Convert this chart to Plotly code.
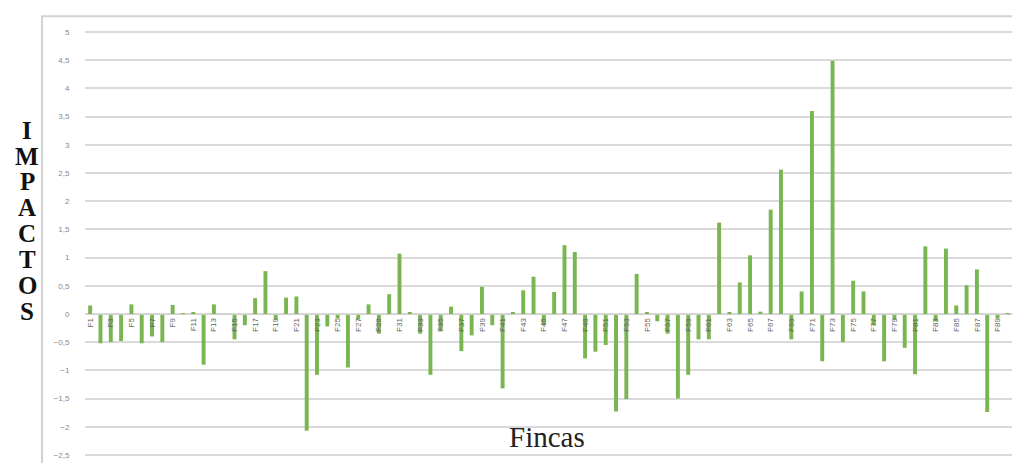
import plotly.graph_objects as go

categories = [f"F{i}" for i in range(1, 91)]
values = [
    0.15, -0.52, -0.50, -0.48, 0.17, -0.52, -0.40, -0.50, 0.16, 0.01,
    0.03, -0.90, 0.17, 0.00, -0.45, -0.20, 0.28, 0.76, -0.10, 0.29,
    0.31, -2.07, -1.08, -0.22, -0.08, -0.95, -0.10, 0.17, -0.35, 0.35,
    1.07, 0.03, -0.35, -1.08, -0.30, 0.13, -0.66, -0.38, 0.48, -0.20,
    -1.32, 0.03, 0.42, 0.66, -0.20, 0.39, 1.22, 1.10, -0.79, -0.67,
    -0.55, -1.73, -1.51, 0.71, 0.03, -0.13, -0.35, -1.50, -1.08, -0.45,
    -0.45, 1.62, 0.02, 0.56, 1.04, 0.04, 1.85, 2.56, -0.45, 0.40,
    3.60, -0.84, 4.49, -0.50, 0.59, 0.40, -0.20, -0.84, -0.10, -0.60,
    -1.07, 1.20, -0.13, 1.16, 0.15, 0.51, 0.79, -1.74, -0.08, -0.02,
]
tick_labels = categories[::2]
title_letters = list("IMPACTOS")
x_title = "Fincas"

y_min, y_max = -2.52, 5.02
zero_pos = (0 - y_min) / (y_max - y_min)

fig = go.Figure(go.Bar(
    x=categories, y=values,
    marker=dict(color="#79B550", line=dict(width=0)),
))

W, H = 1020, 463
ml, mr, mt, mb = 77, 15, 23, 11
pw, ph = W - ml - mr, H - mt - mb

def px_to_paper_x(px):
    return (px - ml) / pw

def px_to_paper_y(py):
    return (H - mb - py) / ph

annotations = []
for i, letter in enumerate(title_letters):
    annotations.append(dict(
        text=f"<b>{letter}</b>", x=px_to_paper_x(19), y=px_to_paper_y(123 + 26.2 * i),
        xref="paper", yref="paper", xanchor="center", yanchor="middle",
        showarrow=False,
        font=dict(family="Liberation Serif", size=25, color="#111111"),
    ))
annotations.append(dict(
    text=x_title, x=px_to_paper_x(539), y=px_to_paper_y(433),
    xref="paper", yref="paper", xanchor="center", yanchor="middle",
    showarrow=False,
    font=dict(family="Liberation Serif", size=29, color="#222222"),
))

fig.update_layout(
    width=W, height=H,
    margin=dict(l=ml, r=mr, t=mt, b=mb, pad=0),
    paper_bgcolor="white", plot_bgcolor="white",
    showlegend=False,
    bargap=0.62,
    separators=",.",
    annotations=annotations,
    shapes=[dict(
        type="rect", xref="paper", yref="paper",
        x0=px_to_paper_x(34), x1=px_to_paper_x(1016),
        y0=-0.2, y1=px_to_paper_y(8),
        line=dict(color="#D2D2D2", width=2), fillcolor="rgba(0,0,0,0)", layer="below",
    )],
)
fig.update_xaxes(
    anchor="free", position=zero_pos,
    showgrid=False, showline=True, linecolor="#CFCFCF", linewidth=1,
    tickmode="array", tickvals=tick_labels, ticktext=tick_labels,
    tickangle=-90, ticks="",
    tickfont=dict(family="Liberation Sans", size=8, color="#666666"),
    range=[-0.5, len(categories) - 0.5],
)
fig.update_yaxes(
    range=[y_min, y_max], dtick=0.5, tick0=0,
    showgrid=True, gridcolor="#DADADA", gridwidth=1.5,
    zeroline=False, showline=False,
    ticks="outside", ticklen=13, tickcolor="rgba(0,0,0,0)",
    tickfont=dict(family="Liberation Sans", size=8, color="#8A8A8A"),
)

fig.write_html("out.html")
